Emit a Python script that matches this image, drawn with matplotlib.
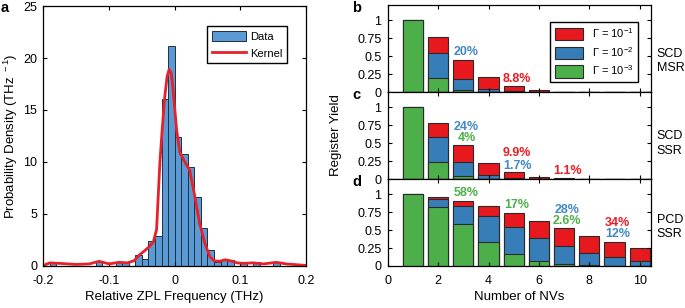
import numpy as np
import matplotlib
matplotlib.use('Agg')
import matplotlib.pyplot as plt
from matplotlib.patches import Patch

plt.rcParams['font.family'] = ['Liberation Sans', 'DejaVu Sans']
plt.rcParams['font.size'] = 9
plt.rcParams['mathtext.default'] = 'regular'

# --- panel a: histogram of ZPL frequencies (density, THz^-1), bin width 0.01 THz
bin_left = [-0.19, -0.12, -0.09, -0.08, -0.06, -0.05, -0.04, -0.03, -0.02, -0.01,
            0.00, 0.01, 0.02, 0.03, 0.04, 0.05, 0.06, 0.07, 0.08, 0.10, 0.12, 0.15]
density = [0.4, 0.4, 0.4, 0.4, 1.1, 0.65, 2.4, 2.9, 16.1, 21.2,
           12.4, 10.8, 9.55, 6.6, 3.7, 1.55, 0.4, 0.6, 0.6, 0.4, 0.4, 0.4]

# kernel estimate
kern_x = [-0.2, -0.19, -0.175, -0.15, -0.13, -0.115, -0.10, -0.085, -0.072, -0.062,
          -0.053, -0.045, -0.038, -0.0325, -0.0275, -0.025, -0.0225, -0.019, -0.015,
          -0.0115, -0.0084, -0.005, -0.0023, 0.003, 0.008, 0.0155, 0.023, 0.0307,
          0.038, 0.046, 0.0535, 0.06, 0.068, 0.077, 0.085, 0.095, 0.105, 0.12,
          0.135, 0.155, 0.17, 0.19, 0.2]
kern_y = [0.05, 0.3, 0.25, 0.15, 0.2, 0.45, 0.2, 0.35, 0.3, 0.5,
          1.1, 1.5, 1.9, 2.3, 3.5, 6.7, 9.9, 13.1, 16.3,
          18.2, 18.9, 18.5, 16.9, 13.1, 10.9, 10.0, 9.2, 6.7,
          4.1, 2.2, 0.9, 0.5, 0.45, 0.6, 0.5, 0.3, 0.25, 0.3,
          0.2, 0.35, 0.2, 0.1, 0.05]

# --- panels b-d: register yield vs number of NVs, for three Gamma values
n_nv = [1, 2, 3, 4, 5, 6, 7, 8, 9, 10]
gamma_labels = ['Γ = 10$^{-1}$', 'Γ = 10$^{-2}$', 'Γ = 10$^{-3}$']

b_g1 = [1.0, 0.767, 0.456, 0.214, 0.084, 0.033, 0.006, 0, 0, 0]
b_g2 = [1.0, 0.544, 0.186, 0.042, 0.014, 0.002, 0, 0, 0, 0]
b_g3 = [1.0, 0.20, 0.033, 0.009, 0.001, 0, 0, 0, 0, 0]

c_g1 = [1.0, 0.789, 0.474, 0.225, 0.099, 0.025, 0.011, 0, 0, 0]
c_g2 = [1.0, 0.59, 0.24, 0.056, 0.017, 0.002, 0, 0, 0, 0]
c_g3 = [1.0, 0.24, 0.04, 0.005, 0.001, 0, 0, 0, 0, 0]

d_g1 = [1.0, 0.963, 0.907, 0.829, 0.736, 0.63, 0.523, 0.421, 0.34, 0.255]
d_g2 = [1.0, 0.93, 0.829, 0.694, 0.542, 0.394, 0.28, 0.185, 0.12, 0.065]
d_g3 = [1.0, 0.824, 0.58, 0.338, 0.17, 0.065, 0.026, 0.008, 0.002, 0]

# annotations: (text, x, y, colour index 0=red 1=blue 2=green)
b_notes = [('20%', 3.13, 0.56, 1), ('8.8%', 5.14, 0.18, 0)]
c_notes = [('24%', 3.13, 0.73, 1), ('4%', 3.13, 0.575, 2), ('9.9%', 5.14, 0.37, 0),
           ('1.7%', 5.14, 0.18, 1), ('1.1%', 7.13, 0.11, 0)]
d_notes = [('58%', 3.13, 1.02, 2), ('17%', 5.14, 0.85, 2), ('28%', 7.13, 0.785, 1),
           ('2.6%', 7.13, 0.625, 2), ('34%', 9.11, 0.60, 0), ('12%', 9.11, 0.44, 1)]

RED, BLUE, GREEN = '#E8191E', '#377EB8', '#4DAF4A'
TXT = ['#EC1C24', '#4189C7', '#4DAF4A']

fig = plt.figure(figsize=(6.85, 3.08), dpi=100)

def box_ticks(ax):
    ax.tick_params(direction='in', top=True, right=True, length=3, width=0.8, labelsize=9)
    ax.tick_params(axis='x', pad=6.5)
    ax.tick_params(axis='y', pad=4.5)
    for s in ax.spines.values():
        s.set_linewidth(0.9)

# panel a
ax = fig.add_axes([0.0632, 0.1364, 0.3835, 0.8441])
bars = ax.bar(bin_left, density, width=0.01, align='edge', color='#5B9BD5',
              edgecolor='#22303c', linewidth=0.7)
line, = ax.plot(kern_x, kern_y, color='#E8202A', lw=2.0)
ax.set_xlim(-0.2, 0.2)
ax.set_ylim(0, 25)
ax.set_xticks([-0.2, -0.1, 0, 0.1, 0.2])
ax.set_xticklabels(['-0.2', '-0.1', '0', '0.1', '0.2'])
ax.set_yticks([0, 5, 10, 15, 20, 25])
box_ticks(ax)
ax.set_xlabel('Relative ZPL Frequency (THz)', fontsize=9.5, labelpad=3)
ax.set_ylabel('Probability Density (THz$^{\\ -1}$)', fontsize=9.5, labelpad=2)
leg = ax.legend([bars, line], ['Data', 'Kernel'], loc='upper right',
                bbox_to_anchor=(0.947, 0.943), fancybox=False, edgecolor='black',
                framealpha=1, handlelength=3.1, handleheight=1.1, labelspacing=0.5,
                borderpad=0.4, handletextpad=0.3, fontsize=8)
leg.get_frame().set_linewidth(1.0)

# panels b, c, d
panels = [('b', b_g1, b_g2, b_g3, b_notes, 'SCD\nMSR', 0.7003, 0.36),
          ('c', c_g1, c_g2, c_g3, c_notes, 'SCD\nSSR', 0.4179, 0.41),
          ('d', d_g1, d_g2, d_g3, d_notes, 'PCD\nSSR', 0.1364, 0.45)]
axes = []
for letter, g1, g2, g3, notes, side, y0, side_y in panels:
    ax = fig.add_axes([0.566, y0, 0.3844, 0.2825])
    for vals, col in zip([g1, g2, g3], [RED, BLUE, GREEN]):
        ax.bar(n_nv, vals, width=0.8, color=col, edgecolor='#2a2a2a', linewidth=0.8)
    for txt, x, y, ci in notes:
        ax.text(x, y, txt, color=TXT[ci], fontsize=9, fontweight='bold',
                ha='center', va='center')
    ax.set_xlim(0, 10.45)
    ax.set_ylim(0, 1.21)
    ax.set_yticks([0, 0.25, 0.5, 0.75, 1])
    ax.set_yticklabels(['0', '0.25', '0.5', '0.75', '1'])
    ax.set_xticks([0, 2, 4, 6, 8, 10])
    box_ticks(ax)
    if letter != 'd':
        ax.set_xticklabels([])
    ax.text(1.022, side_y, side, transform=ax.transAxes, ha='left', va='center',
            fontsize=9, linespacing=1.25)
    axes.append(ax)

handles = [Patch(facecolor=c, edgecolor='#2a2a2a', linewidth=0.8) for c in [RED, BLUE, GREEN]]
leg = axes[0].legend(handles, gamma_labels, loc='upper right', bbox_to_anchor=(0.971, 0.873),
                     fancybox=False, edgecolor='black', framealpha=1, handlelength=2.5,
                     handleheight=1.29, labelspacing=0.4, borderpad=0.4, handletextpad=0.8,
                     fontsize=8)
leg.get_frame().set_linewidth(1.0)
axes[2].set_xlabel('Number of NVs', fontsize=9.5, labelpad=3)
fig.text(0.491, 0.56, 'Register Yield', rotation=90, ha='center', va='center', fontsize=9.5)

# panel letters
fig.text(0.001, 0.975, 'a', fontsize=10.5, fontweight='bold', va='center')
fig.text(0.514, 0.975, 'b', fontsize=10.5, fontweight='bold', va='center')
fig.text(0.514, 0.69, 'c', fontsize=10.5, fontweight='bold', va='center')
fig.text(0.514, 0.41, 'd', fontsize=10.5, fontweight='bold', va='center')

fig.savefig('out.png', dpi=100)
